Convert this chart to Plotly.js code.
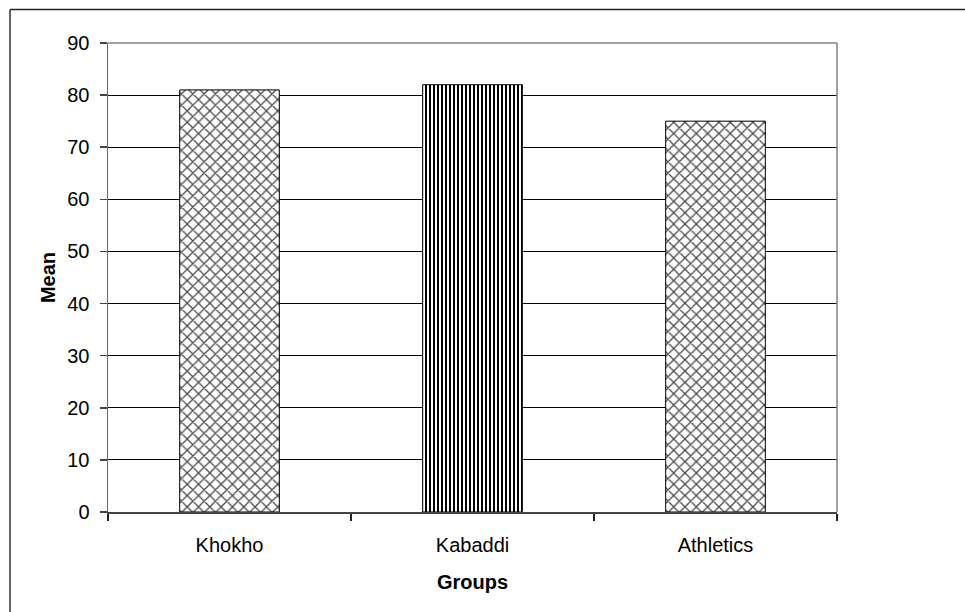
<!DOCTYPE html>
<html><head><meta charset="utf-8">
<script src="https://cdn.plot.ly/plotly-3.0.1.min.js"></script>
<style>html,body{margin:0;padding:0;background:#fff}#chart{width:965px;height:612px}</style>
</head><body><div id="chart"></div>
<script>
const groups = ["Khokho", "Kabaddi", "Athletics"];
const means = [81, 82, 75];
const patternShapes = ["x", "|", "x"];
const yTicks = [0, 10, 20, 30, 40, 50, 60, 70, 80, 90];

const trace = {
  type: "bar",
  x: groups,
  y: means,
  width: 0.41,
  marker: {
    color: "#ffffff",
    line: {color: "#000000", width: 1},
    pattern: {
      shape: patternShapes,
      fgcolor: ["#4a4a4a", "#000000", "#4a4a4a"],
      bgcolor: "#ffffff",
      size: [8, 4, 8],
      solidity: [0.3, 0.5, 0.3],
      fillmode: "replace"
    }
  },
  hoverinfo: "x+y"
};

const layout = {
  width: 965, height: 612,
  margin: {l: 108, r: 128, t: 43, b: 100, pad: 0},
  paper_bgcolor: "#ffffff", plot_bgcolor: "#ffffff",
  font: {family: "Liberation Sans, Arial, sans-serif", size: 20, color: "#000"},
  showlegend: false,
  bargap: 0.59,
  xaxis: {
    type: "category",
    showgrid: false,
    showline: true, linecolor: "#444", linewidth: 1.5,
    ticks: "outside", tickson: "boundaries", ticklen: 7, tickcolor: "#222", tickwidth: 1.5,
    tickfont: {size: 20},
    ticklabelstandoff: 14,
    title: {text: "Groups", font: {size: 20, weight: "bold"}, standoff: 20},
    zeroline: false
  },
  yaxis: {
    range: [0, 90],
    tickvals: yTicks,
    ticktext: yTicks.map(String),
    showgrid: true, gridcolor: "#000000", gridwidth: 1,
    showline: true, linecolor: "#666", linewidth: 1.5,
    ticks: "outside", ticklen: 7, tickcolor: "#444", tickwidth: 1.5,
    tickfont: {size: 20},
    ticklabelstandoff: 6,
    title: {text: "Mean", font: {size: 20, weight: "bold"}, standoff: 6},
    zeroline: false
  },
  shapes: [
    {type: "line", xref: "paper", yref: "paper", x0: 0, x1: 1, y0: 1, y1: 1,
     line: {color: "#808080", width: 1.5}, layer: "above"},
    {type: "line", xref: "paper", yref: "paper", x0: 1, x1: 1, y0: 0, y1: 1,
     line: {color: "#808080", width: 1.5}, layer: "above"},
    {type: "line", xref: "paper", yref: "paper", x0: -0.1344, x1: 1.3, y0: 1.0714, y1: 1.0714,
     line: {color: "#222", width: 1.5}, layer: "above"},
    {type: "line", xref: "paper", yref: "paper", x0: -0.1344, x1: -0.1344, y0: -0.3, y1: 1.0714,
     line: {color: "#333", width: 1.5}, layer: "above"}
  ]
};

Plotly.newPlot("chart", [trace], layout, {displayModeBar: false, staticPlot: true});
</script></body></html>
